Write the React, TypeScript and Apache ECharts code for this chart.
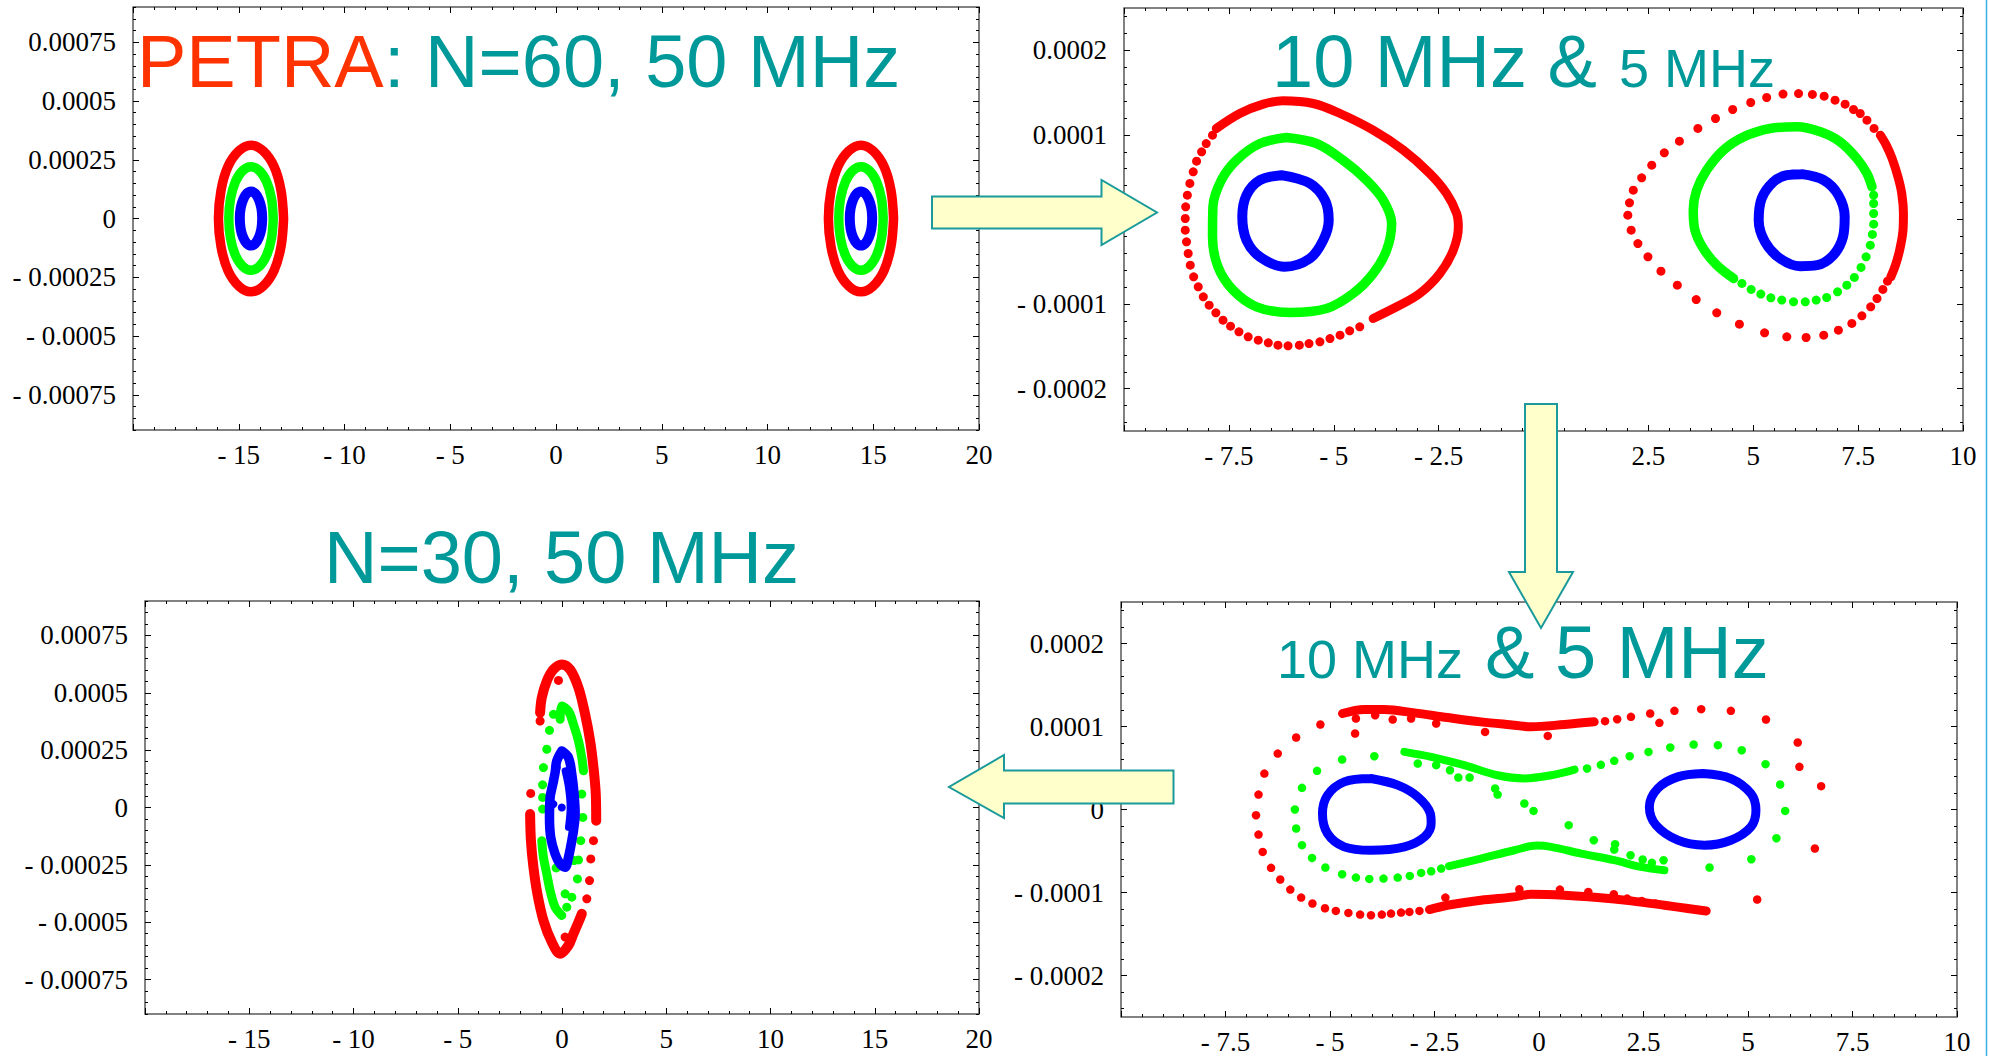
import React, { useEffect, useRef } from 'react';
import * as echarts from 'echarts';

type Pt = [number, number];

// ---------- tick labels ----------
const xTicksWide = [-20, -15, -10, -5, 0, 5, 10, 15, 20];
const xTicksNarrow = [-10, -7.5, -5, -2.5, 0, 2.5, 5, 7.5, 10];
const yTicksWide = [-0.00075, -0.0005, -0.00025, 0, 0.00025, 0.0005, 0.00075];
const yTicksNarrow = [-0.0002, -0.0001, 0, 0.0001, 0.0002];

// ---------- titles ----------
const title1a = 'PETRA';
const title1b = ': N=60, 50 MHz';
const title2a = '10 MHz & ';
const title2b = '5 MHz';
const title3 = 'N=30, 50 MHz';
const title4a = '10 MHz';
const title4b = '& 5 MHz';

// ---------- panel 1: N=60, 50 MHz ----------
const p1RedLeft: Pt[] = [[-12.88, 0], [-13.0, 11.9e-5], [-13.33, 22.1e-5], [-13.85, 28.8e-5], [-14.42, 31.2e-5], [-14.99, 28.8e-5], [-15.51, 22.1e-5], [-15.84, 11.9e-5], [-15.96, 0], [-15.84, -11.9e-5], [-15.51, -22.1e-5], [-14.99, -28.8e-5], [-14.42, -31.2e-5], [-13.85, -28.8e-5], [-13.33, -22.1e-5], [-13.0, -11.9e-5], [-12.88, 0]];
const p1GreenLeft: Pt[] = [[-13.37, 0], [-13.45, 8.4e-5], [-13.68, 15.6e-5], [-14.02, 20.3e-5], [-14.42, 22.0e-5], [-14.82, 20.3e-5], [-15.16, 15.6e-5], [-15.39, 8.4e-5], [-15.47, 0], [-15.39, -8.4e-5], [-15.16, -15.6e-5], [-14.82, -20.3e-5], [-14.42, -22.0e-5], [-14.02, -20.3e-5], [-13.68, -15.6e-5], [-13.45, -8.4e-5], [-13.37, 0]];
const p1BlueLeft: Pt[] = [[-13.89, 0], [-13.93, 4.4e-5], [-14.05, 8.1e-5], [-14.22, 10.6e-5], [-14.42, 11.5e-5], [-14.62, 10.6e-5], [-14.79, 8.1e-5], [-14.91, 4.4e-5], [-14.95, 0], [-14.91, -4.4e-5], [-14.79, -8.1e-5], [-14.62, -10.6e-5], [-14.42, -11.5e-5], [-14.22, -10.6e-5], [-14.05, -8.1e-5], [-13.93, -4.4e-5], [-13.89, 0]];
const p1RedRight: Pt[] = [[15.96, 0], [15.84, 11.9e-5], [15.51, 22.1e-5], [14.99, 28.8e-5], [14.42, 31.2e-5], [13.85, 28.8e-5], [13.33, 22.1e-5], [13.0, 11.9e-5], [12.88, 0], [13.0, -11.9e-5], [13.33, -22.1e-5], [13.85, -28.8e-5], [14.42, -31.2e-5], [14.99, -28.8e-5], [15.51, -22.1e-5], [15.84, -11.9e-5], [15.96, 0]];
const p1GreenRight: Pt[] = [[15.47, 0], [15.39, 8.4e-5], [15.16, 15.6e-5], [14.82, 20.3e-5], [14.42, 22.0e-5], [14.02, 20.3e-5], [13.68, 15.6e-5], [13.45, 8.4e-5], [13.37, 0], [13.45, -8.4e-5], [13.68, -15.6e-5], [14.02, -20.3e-5], [14.42, -22.0e-5], [14.82, -20.3e-5], [15.16, -15.6e-5], [15.39, -8.4e-5], [15.47, 0]];
const p1BlueRight: Pt[] = [[14.95, 0], [14.91, 4.4e-5], [14.79, 8.1e-5], [14.62, 10.6e-5], [14.42, 11.5e-5], [14.22, 10.6e-5], [14.05, 8.1e-5], [13.93, 4.4e-5], [13.89, 0], [13.93, -4.4e-5], [14.05, -8.1e-5], [14.22, -10.6e-5], [14.42, -11.5e-5], [14.62, -10.6e-5], [14.79, -8.1e-5], [14.91, -4.4e-5], [14.95, 0]];

// ---------- panel 2: 10 MHz & 5 MHz ----------
const p2RedLeftLine: Pt[] = [[-7.8, 10.76e-5], [-7.24, 12.53e-5], [-6.68, 13.63e-5], [-6.21, 14.03e-5], [-5.49, 13.71e-5], [-4.85, 12.53e-5], [-4.06, 10.56e-5], [-3.34, 8.2e-5], [-2.71, 5.44e-5], [-2.31, 3.07e-5], [-2.07, 0.71e-5], [-2.03, -0.87e-5], [-2.15, -3.62e-5], [-2.47, -6.38e-5], [-2.95, -8.75e-5], [-3.5, -10.32e-5], [-4.06, -11.7e-5]];
const p2RedLeftDots: Pt[] = [[-4.38, -12.69e-5], [-4.62, -13.16e-5], [-4.85, -13.67e-5], [-5.09, -14.07e-5], [-5.33, -14.46e-5], [-5.59, -14.66e-5], [-5.82, -14.85e-5], [-6.09, -14.93e-5], [-6.33, -14.85e-5], [-6.56, -14.58e-5], [-6.8, -14.26e-5], [-7.04, -13.87e-5], [-7.26, -13.28e-5], [-7.46, -12.61e-5], [-7.64, -11.9e-5], [-7.81, -11.03e-5], [-7.97, -10.13e-5], [-8.11, -9.14e-5], [-8.23, -7.96e-5], [-8.34, -6.78e-5], [-8.42, -5.4e-5], [-8.47, -4.02e-5], [-8.51, -2.64e-5], [-8.54, -1.26e-5], [-8.54, 0.12e-5], [-8.53, 1.5e-5], [-8.49, 2.88e-5], [-8.43, 4.26e-5], [-8.35, 5.63e-5], [-8.27, 6.9e-5], [-8.15, 8.0e-5], [-8.04, 8.98e-5], [-7.89, 9.97e-5]];
const p2GreenLeft: Pt[] = [[-6.13, 9.69e-5], [-5.41, 8.98e-5], [-4.78, 7.01e-5], [-4.22, 4.65e-5], [-3.82, 2.29e-5], [-3.62, -0.47e-5], [-3.74, -3.62e-5], [-4.06, -6.38e-5], [-4.54, -8.75e-5], [-5.17, -10.52e-5], [-6.05, -10.99e-5], [-6.84, -10.32e-5], [-7.4, -8.35e-5], [-7.76, -5.59e-5], [-7.89, -2.05e-5], [-7.88, 1.5e-5], [-7.68, 4.65e-5], [-7.32, 7.01e-5], [-6.76, 8.98e-5], [-6.13, 9.69e-5]];
const p2BlueLeft: Pt[] = [[-6.25, 5.24e-5], [-5.57, 4.26e-5], [-5.21, 2.29e-5], [-5.12, -0.08e-5], [-5.25, -2.44e-5], [-5.57, -4.61e-5], [-6.17, -5.59e-5], [-6.76, -4.41e-5], [-7.08, -2.44e-5], [-7.18, 0.32e-5], [-7.08, 2.88e-5], [-6.76, 4.65e-5], [-6.25, 5.24e-5]];
const p2RedRightDots: Pt[] = [[6.08, 14.89e-5], [5.71, 14.82e-5], [5.32, 14.42e-5], [4.94, 13.83e-5], [4.51, 13.0e-5], [4.1, 11.94e-5], [3.68, 10.76e-5], [3.24, 9.26e-5], [2.88, 7.88e-5], [2.58, 6.42e-5], [2.34, 4.93e-5], [2.14, 3.47e-5], [2.05, 1.97e-5], [2.01, 0.51e-5], [2.09, -1.26e-5], [2.25, -2.84e-5], [2.49, -4.41e-5], [2.8, -6.11e-5], [3.19, -7.76e-5], [3.64, -9.46e-5], [4.13, -11.03e-5], [4.67, -12.37e-5], [5.27, -13.4e-5], [5.8, -13.87e-5], [6.26, -13.95e-5], [6.68, -13.67e-5], [7.03, -13.08e-5], [7.35, -12.29e-5], [7.59, -11.39e-5], [7.8, -10.32e-5], [7.95, -9.34e-5], [8.09, -8.27e-5], [8.2, -7.29e-5], [6.41, 14.78e-5], [6.69, 14.58e-5], [6.95, 14.11e-5], [7.19, 13.63e-5], [7.39, 13.0e-5], [7.55, 12.53e-5], [7.71, 11.74e-5], [7.88, 10.76e-5]];
const p2RedRightLine: Pt[] = [[8.03, 9.97e-5], [8.17, 8.79e-5], [8.31, 7.21e-5], [8.45, 5.04e-5], [8.54, 3.07e-5], [8.58, 0.71e-5], [8.57, -1.26e-5], [8.49, -3.62e-5], [8.39, -5.4e-5], [8.28, -6.78e-5]];
const p2GreenRightLine: Pt[] = [[4.53, -6.97e-5], [4.13, -5.4e-5], [3.81, -3.43e-5], [3.61, -1.26e-5], [3.57, 1.1e-5], [3.65, 3.47e-5], [3.89, 5.83e-5], [4.29, 8.2e-5], [4.77, 9.77e-5], [5.4, 10.76e-5], [6.04, 10.95e-5], [6.6, 10.36e-5], [7.07, 9.18e-5], [7.47, 7.21e-5], [7.71, 5.44e-5], [7.83, 3.86e-5]];
const p2GreenRightDots: Pt[] = [[7.87, 2.88e-5], [7.87, 1.89e-5], [7.87, 0.71e-5], [7.87, -0.55e-5], [7.84, -1.77e-5], [7.79, -3.03e-5], [7.69, -4.41e-5], [7.57, -5.67e-5], [7.41, -6.85e-5], [7.23, -7.76e-5], [7.01, -8.55e-5], [6.75, -9.22e-5], [6.5, -9.53e-5], [6.24, -9.73e-5], [5.96, -9.73e-5], [5.68, -9.53e-5], [5.42, -9.26e-5], [5.18, -8.82e-5], [4.95, -8.27e-5], [4.73, -7.56e-5]];
const p2BlueRight: Pt[] = [[6.16, 5.36e-5], [6.68, 4.65e-5], [7.03, 2.88e-5], [7.18, 0.32e-5], [7.14, -2.05e-5], [6.91, -4.21e-5], [6.52, -5.4e-5], [6.12, -5.52e-5], [5.64, -4.61e-5], [5.28, -2.64e-5], [5.13, -0.08e-5], [5.2, 2.48e-5], [5.48, 4.45e-5], [5.8, 5.24e-5], [6.16, 5.36e-5]];

// ---------- panel 3: N=30, 50 MHz ----------
const p3RedUpper: Pt[] = [[-1.05, 41.33e-5], [-0.97, 47.85e-5], [-0.73, 55.09e-5], [-0.41, 60.16e-5], [-0.01, 62.34e-5], [0.39, 60.16e-5], [0.79, 52.19e-5], [1.11, 40.6e-5], [1.35, 29.01e-5], [1.51, 17.42e-5], [1.62, 5.83e-5], [1.64, -5.77e-5]];
const p3RedLower: Pt[] = [[-1.53, -2.87e-5], [-1.49, -14.46e-5], [-1.37, -26.05e-5], [-1.18, -37.64e-5], [-0.89, -49.24e-5], [-0.49, -58.65e-5], [-0.09, -63.73e-5], [0.31, -60.1e-5], [0.55, -55.03e-5], [0.79, -49.96e-5], [0.95, -46.34e-5]];
const p3RedDots: Pt[] = [[-1.5, 6.12e-5], [-1.05, 37.7e-5], [-0.17, 55.38e-5], [1.51, -14.46e-5], [1.38, -22.43e-5], [1.32, -31.85e-5], [1.19, -39.82e-5], [0.15, -56.48e-5]];
const p3GreenUpper: Pt[] = [[-0.09, 38.43e-5], [-0.01, 44.22e-5], [0.31, 42.05e-5], [0.55, 36.26e-5], [0.79, 29.01e-5], [0.95, 21.77e-5], [1.03, 15.97e-5]];
const p3GreenLower: Pt[] = [[-0.97, -14.46e-5], [-0.89, -21.7e-5], [-0.73, -28.95e-5], [-0.57, -36.2e-5], [-0.33, -43.44e-5], [-0.01, -47.06e-5]];
const p3GreenDots: Pt[] = [[-0.41, 40.6e-5], [-0.6, 33.65e-5], [-0.73, 25.39e-5], [-0.89, 17.42e-5], [-0.93, 9.88e-5], [-0.93, 4.38e-5], [-0.93, -0.69e-5], [0.95, 5.83e-5], [1.0, -4.32e-5], [0.9, -14.46e-5], [0.79, -22.86e-5], [0.58, -23.15e-5], [0.74, -31.13e-5], [0.47, -39.1e-5], [0.15, -37.64e-5], [0.23, -43.44e-5], [-0.28, -26.34e-5]];
const p3BlueRing: Pt[] = [[-0.01, 24.66e-5], [0.31, 21.77e-5], [0.47, 14.52e-5], [0.58, 5.83e-5], [0.63, -2.87e-5], [0.55, -10.11e-5], [0.47, -14.46e-5], [0.31, -21.7e-5], [0.15, -26.05e-5], [-0.09, -24.6e-5], [-0.33, -20.26e-5], [-0.54, -13.01e-5], [-0.6, -4.32e-5], [-0.57, 4.38e-5], [-0.44, 10.17e-5], [-0.33, 15.24e-5], [-0.25, 20.32e-5], [-0.01, 24.66e-5]];
const p3BlueInner: Pt[] = [[0.15, 15.97e-5], [0.31, 8.72e-5], [0.39, 0.03e-5], [0.31, -8.66e-5]];
const p3BlueDots: Pt[] = [[-0.25, 17.42e-5], [-0.41, 1.48e-5], [-0.01, 0.03e-5]];

// ---------- panel 4: 10 MHz & 5 MHz ----------
const p4BlueLeft: Pt[] = [[-4.02, 3.73e-5], [-3.38, 2.93e-5], [-2.9, 1.52e-5], [-2.6, -0.49e-5], [-2.58, -1.69e-5], [-2.74, -3.3e-5], [-3.22, -4.5e-5], [-4.02, -4.91e-5], [-4.66, -4.5e-5], [-5.06, -2.9e-5], [-5.18, -0.49e-5], [-5.06, 1.72e-5], [-4.66, 3.33e-5], [-4.02, 3.73e-5]];
const p4BlueRight: Pt[] = [[3.92, 4.33e-5], [4.59, 3.73e-5], [5.07, 1.92e-5], [5.19, -0.09e-5], [5.07, -2.09e-5], [4.59, -3.7e-5], [3.96, -4.3e-5], [3.32, -3.7e-5], [2.8, -1.89e-5], [2.64, 0.31e-5], [2.84, 2.53e-5], [3.32, 3.93e-5], [3.92, 4.33e-5]];
const p4RedTop: Pt[] = [[-4.7, 11.56e-5], [-4.18, 12.05e-5], [-3.7, 12.05e-5], [-2.98, 11.64e-5], [-2.19, 11.08e-5], [-1.39, 10.56e-5], [-0.59, 10.16e-5], [-0.19, 9.96e-5], [0.61, 10.24e-5], [1.32, 10.56e-5]];
const p4RedBottom: Pt[] = [[-2.62, -12.06e-5], [-2.19, -11.53e-5], [-1.39, -10.93e-5], [-0.59, -10.53e-5], [-0.19, -10.21e-5], [0.61, -10.33e-5], [1.4, -10.61e-5], [2.2, -11.01e-5], [3.0, -11.53e-5], [3.56, -11.93e-5], [4.0, -12.22e-5]];
const p4RedDots: Pt[] = [[-5.23, 10.24e-5], [-5.81, 8.67e-5], [-6.25, 6.74e-5], [-6.57, 4.33e-5], [-6.71, 1.8e-5], [-6.77, -0.69e-5], [-6.71, -3.02e-5], [-6.61, -5.11e-5], [-6.41, -7.03e-5], [-6.19, -8.44e-5], [-5.95, -9.65e-5], [-5.69, -10.61e-5], [-5.42, -11.33e-5], [-5.12, -11.9e-5], [-4.86, -12.22e-5], [-4.56, -12.46e-5], [-4.28, -12.66e-5], [-4.02, -12.74e-5], [-3.76, -12.66e-5], [-3.54, -12.54e-5], [-3.3, -12.42e-5], [-3.1, -12.34e-5], [-2.86, -12.22e-5],
  [-4.38, 10.96e-5], [-3.92, 11.36e-5], [-3.5, 10.84e-5], [-3.06, 10.96e-5], [-2.46, 10.36e-5], [-1.29, 9.35e-5], [0.21, 8.87e-5], [-4.4, 9.15e-5],
  [1.58, 10.64e-5], [1.87, 10.88e-5], [2.2, 11.16e-5], [2.66, 11.56e-5], [2.88, 10.44e-5], [3.24, 11.89e-5], [3.88, 12.09e-5], [4.59, 11.89e-5], [5.43, 10.84e-5], [6.19, 8.07e-5], [6.23, 5.14e-5], [6.75, 2.81e-5], [6.6, -4.7e-5], [5.22, -10.85e-5],
  [-2.24, -10.61e-5], [-0.47, -9.61e-5], [0.5, -9.65e-5], [1.18, -9.93e-5], [1.79, -10.21e-5], [2.11, -10.73e-5], [2.46, -11.01e-5], [2.78, -11.33e-5]];
const p4GreenTop: Pt[] = [[-3.22, 6.94e-5], [-2.58, 6.34e-5], [-1.79, 5.34e-5], [-0.99, 4.13e-5], [-0.35, 3.75e-5], [0.29, 4.13e-5], [0.85, 4.81e-5]];
const p4GreenBottom: Pt[] = [[-2.15, -6.83e-5], [-1.39, -5.91e-5], [-0.59, -4.91e-5], [-0.05, -4.35e-5], [0.29, -4.5e-5], [1.01, -5.31e-5], [1.8, -6.11e-5], [2.44, -6.91e-5], [3.0, -7.32e-5]];
const p4GreenDots: Pt[] = [[-3.94, 6.42e-5], [-4.71, 6.02e-5], [-5.31, 4.66e-5], [-5.67, 2.61e-5], [-5.84, 0], [-5.81, -2.29e-5], [-5.67, -4.3e-5], [-5.43, -5.83e-5], [-5.11, -6.99e-5], [-4.71, -7.8e-5], [-4.38, -8.2e-5], [-4.06, -8.36e-5], [-3.72, -8.32e-5], [-3.38, -8.2e-5], [-3.09, -8.0e-5], [-2.82, -7.64e-5], [-2.58, -7.44e-5], [-2.34, -7.12e-5],
  [-2.9, 5.54e-5], [-2.46, 5.34e-5], [-2.13, 4.73e-5], [-1.93, 3.85e-5], [-1.66, 3.85e-5], [-1.05, 2.53e-5], [-0.99, 1.8e-5], [-0.35, 0.72e-5], [-0.13, -0.17e-5], [0.71, -1.89e-5], [1.31, -3.7e-5], [1.82, -4.18e-5], [1.8, -4.82e-5], [2.19, -5.51e-5], [2.48, -6.03e-5], [2.7, -6.43e-5], [2.98, -6.11e-5],
  [1.15, 4.94e-5], [1.48, 5.38e-5], [1.8, 5.86e-5], [2.17, 6.42e-5], [2.62, 6.94e-5], [3.14, 7.47e-5], [3.7, 7.83e-5], [4.28, 7.75e-5], [4.85, 7.14e-5], [5.42, 5.46e-5], [5.77, 3.01e-5], [5.89, -0.17e-5], [5.68, -3.46e-5], [5.08, -5.99e-5], [4.08, -6.99e-5]];

// ---------- styling ----------
const RED = '#ff0000';
const GREEN = '#00ff00';
const BLUE = '#0000ff';
const TEAL = '#009999';
const ORANGE = '#ff3300';
const SERIF = "'Liberation Serif', 'Times New Roman', serif";
const SANS = "'Liberation Sans', Arial, sans-serif";

const fmtNum = (v: number) => {
  const s = String(+Math.abs(v).toPrecision(6));
  return v < 0 ? '- ' + s : s;
};

const steps = (from: number, to: number, step: number) => {
  const out: number[] = [];
  const n = Math.round((to - from) / step);
  for (let i = 0; i <= n; i++) out.push(+(from + i * step).toPrecision(8));
  return out;
};

interface PanelCfg {
  rect: { left: number; top: number; width: number; height: number };
  xr: [number, number];
  xInterval: number;
  xTicks: number[];
  xHide: number[];
  yr: [number, number];
  yTicks: number[];
  yMinor: number;
}

const panelCfgs: PanelCfg[] = [
  { rect: { left: 133, top: 7, width: 846, height: 423 }, xr: [-20, 20], xInterval: 5, xTicks: xTicksWide, xHide: [-20], yr: [-0.0009, 0.0009], yTicks: yTicksWide, yMinor: 0.00005 },
  { rect: { left: 1124, top: 8, width: 839, height: 423 }, xr: [-10, 10], xInterval: 2.5, xTicks: xTicksNarrow, xHide: [-10], yr: [-0.00025, 0.00025], yTicks: yTicksNarrow, yMinor: 0.00002 },
  { rect: { left: 145, top: 601, width: 834, height: 413 }, xr: [-20, 20], xInterval: 5, xTicks: xTicksWide, xHide: [-20], yr: [-0.0009, 0.0009], yTicks: yTicksWide, yMinor: 0.00005 },
  { rect: { left: 1121, top: 602, width: 836, height: 415 }, xr: [-10, 10], xInterval: 2.5, xTicks: xTicksNarrow, xHide: [-10], yr: [-0.00025, 0.00025], yTicks: yTicksNarrow, yMinor: 0.00002 },
];

function buildOption() {
  const grid: any[] = [];
  const xAxis: any[] = [];
  const yAxis: any[] = [];
  panelCfgs.forEach((p, gi) => {
    grid.push({ ...p.rect, show: true, borderColor: '#5a5a5a', borderWidth: 1.5, backgroundColor: 'transparent', containLabel: false });
    const xBase = {
      gridIndex: gi, type: 'value', min: p.xr[0], max: p.xr[1], interval: p.xInterval,
      axisLine: { show: false, onZero: false },
      splitLine: { show: false }, minorSplitLine: { show: false },
      axisTick: { show: true, inside: true, length: 6, lineStyle: { color: '#000', width: 1 } },
      minorTick: { show: true, splitNumber: 5, length: 3, lineStyle: { color: '#000', width: 1 } },
    };
    xAxis.push({
      ...xBase, position: 'bottom',
      axisLabel: {
        show: true, margin: 11, color: '#000', fontFamily: SERIF, fontSize: 27,
        showMinLabel: true, showMaxLabel: true,
        formatter: (v: number) => (p.xHide.some((h) => Math.abs(h - v) < 1e-9) ? '' : fmtNum(v)),
      },
    });
    xAxis.push({ ...xBase, position: 'top', axisLabel: { show: false } });
    const lim = Math.floor(p.yr[1] / p.yMinor + 1e-6) * p.yMinor;
    const minorVals = steps(-lim, lim, p.yMinor);
    const yBase = {
      gridIndex: gi, type: 'value', min: p.yr[0], max: p.yr[1],
      axisLine: { show: false, onZero: false },
      splitLine: { show: false },
    };
    for (const pos of ['left', 'right']) {
      yAxis.push({
        ...yBase, position: pos,
        axisTick: { show: true, inside: true, length: 6, customValues: p.yTicks, lineStyle: { color: '#000', width: 1 } },
        axisLabel: pos === 'left'
          ? { show: true, customValues: p.yTicks, margin: 17, color: '#000', fontFamily: SERIF, fontSize: 27, formatter: (v: number) => fmtNum(v) }
          : { show: false },
      });
      yAxis.push({
        ...yBase, position: pos,
        axisTick: { show: true, inside: true, length: 3, customValues: minorVals, lineStyle: { color: '#000', width: 1 } },
        axisLabel: { show: false },
      });
    }
  });

  const line = (gi: number, data: Pt[], color: string, width: number, smooth = 0.35) => ({
    type: 'line', data, xAxisIndex: gi * 2, yAxisIndex: gi * 4, showSymbol: false, symbol: 'none',
    smooth, silent: true, lineStyle: { color, width, cap: 'round', join: 'round' },
  });
  const dots = (gi: number, data: Pt[], color: string, size: number) => ({
    type: 'scatter', data, xAxisIndex: gi * 2, yAxisIndex: gi * 4, symbol: 'circle', symbolSize: size,
    silent: true, itemStyle: { color, opacity: 1 },
  });

  const series = [
    line(0, p1RedLeft, RED, 9.5), line(0, p1RedRight, RED, 9.5),
    line(0, p1GreenLeft, GREEN, 9.5), line(0, p1GreenRight, GREEN, 9.5),
    line(0, p1BlueLeft, BLUE, 10), line(0, p1BlueRight, BLUE, 10),

    line(1, p2RedLeftLine, RED, 9), dots(1, p2RedLeftDots, RED, 9),
    line(1, p2RedRightLine, RED, 9), dots(1, p2RedRightDots, RED, 9),
    line(1, p2GreenLeft, GREEN, 9.5), line(1, p2GreenRightLine, GREEN, 9.5), dots(1, p2GreenRightDots, GREEN, 9),
    line(1, p2BlueLeft, BLUE, 10), line(1, p2BlueRight, BLUE, 10),

    line(2, p3RedUpper, RED, 10), line(2, p3RedLower, RED, 10), dots(2, p3RedDots, RED, 9),
    line(2, p3GreenUpper, GREEN, 9), line(2, p3GreenLower, GREEN, 9), dots(2, p3GreenDots, GREEN, 9),
    line(2, p3BlueRing, BLUE, 9.5), line(2, p3BlueInner, BLUE, 7), dots(2, p3BlueDots, BLUE, 8),

    line(3, p4RedTop, RED, 9), line(3, p4RedBottom, RED, 9), dots(3, p4RedDots, RED, 8.5),
    line(3, p4GreenTop, GREEN, 8), line(3, p4GreenBottom, GREEN, 8), dots(3, p4GreenDots, GREEN, 8.5),
    line(3, p4BlueLeft, BLUE, 9), line(3, p4BlueRight, BLUE, 9),
  ];

  const arrowStyle = { fill: '#ffffcc', stroke: '#1a9a9a', lineWidth: 2 };
  const text = (x: number, y: number, t: string, size: number, color: string) => ({
    type: 'text', x, y, z: 100,
    style: { text: t, fill: color, fontSize: size, fontFamily: SANS, align: 'left', verticalAlign: 'middle' },
  });

  const graphic = [
    text(137, 61, title1a, 74, ORANGE),
    text(384, 61, title1b, 74, TEAL),
    text(1272, 61, title2a, 74, TEAL),
    text(1619, 68, title2b, 54, TEAL),
    text(324, 557, title3, 74, TEAL),
    text(1277, 659, title4a, 54, TEAL),
    text(1485, 652, title4b, 74, TEAL),
    { type: 'polygon', z: 110, shape: { points: [[932, 196.5], [1101.5, 196.5], [1101.5, 180], [1157, 212.5], [1101.5, 245], [1101.5, 228.5], [932, 228.5]] }, style: arrowStyle },
    { type: 'polygon', z: 110, shape: { points: [[1525, 404], [1557, 404], [1557, 572], [1573, 572], [1541, 628], [1509, 572], [1525, 572]] }, style: arrowStyle },
    { type: 'polygon', z: 110, shape: { points: [[1173.5, 770.5], [1004, 770.5], [1004, 755], [949, 787], [1004, 818], [1004, 803.5], [1173.5, 803.5]] }, style: arrowStyle },
    { type: 'line', z: 110, shape: { x1: 1986.5, y1: 0, x2: 1986.5, y2: 1056 }, style: { stroke: '#3aaee8', lineWidth: 1.5 } },
  ];

  return { animation: false, backgroundColor: '#ffffff', grid, xAxis, yAxis, series, graphic };
}

export default function App() {
  const ref = useRef<HTMLDivElement>(null);
  useEffect(() => {
    if (!ref.current) return;
    const chart = echarts.init(ref.current, undefined, { renderer: 'svg' });
    chart.setOption(buildOption() as any);
    return () => chart.dispose();
  }, []);
  return (
    <div
      ref={ref}
      style={{ position: 'fixed', left: 0, top: 0, width: 1989, height: 1056, background: '#fff' }}
    />
  );
}
